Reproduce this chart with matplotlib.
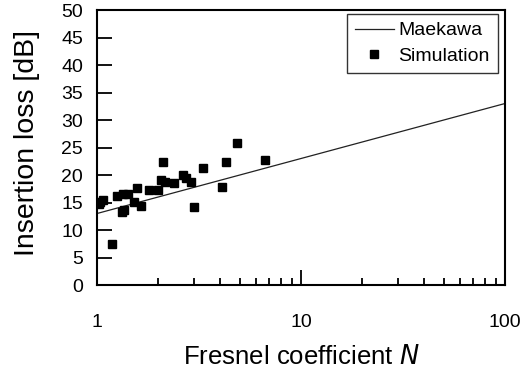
import numpy as np
import matplotlib
matplotlib.use("Agg")
import matplotlib.pyplot as plt
from matplotlib.ticker import LogLocator, FixedLocator, NullFormatter

plt.rcParams['font.family'] = ['Liberation Sans', 'DejaVu Sans']

# Maekawa chart line (straight on log axis)
maekawa_n = [1, 100]
maekawa_il = [13.0, 33.0]

# simulation points
sim_n = [1.02, 1.07, 1.04, 1.19, 1.25, 1.32, 1.35, 1.34, 1.42, 1.51, 1.57, 1.64,
         1.79, 2.00, 2.10, 2.07, 2.15, 2.39, 2.63, 2.73, 2.88, 3.00, 3.30,
         4.11, 4.29, 4.84, 6.66]
sim_il = [14.8, 15.5, 15.1, 7.4, 16.2, 13.3, 13.7, 16.5, 16.5, 15.1, 17.7, 14.4,
          17.3, 17.3, 22.3, 19.1, 18.8, 18.5, 20.0, 19.4, 18.8, 14.2, 21.3,
          17.9, 22.4, 25.9, 22.7]

fig = plt.figure(figsize=(5.25, 3.76), dpi=100)
ax = fig.add_axes([0.1848, 0.242, 0.7771, 0.7314])

ax.plot(maekawa_n, maekawa_il, color='#222222', lw=0.9, label='Maekawa')
ax.plot(sim_n, sim_il, ls='none', marker='s', ms=6.3, color='black', label='Simulation')

ax.set_xscale('log')
ax.set_xlim(1, 100)
ax.set_ylim(0, 50)
ax.set_yticks(np.arange(0, 51, 5))
ax.xaxis.set_major_locator(FixedLocator([1, 10, 100]))
ax.set_xticklabels(['1', '10', '100'])
ax.xaxis.set_minor_locator(LogLocator(base=10, subs=np.arange(2, 10)))
ax.xaxis.set_minor_formatter(NullFormatter())

for s in ax.spines.values():
    s.set_linewidth(1.5)
ax.tick_params(axis='both', which='major', direction='in', length=11, width=1.3,
               labelsize=14, top=False, right=False, pad=10, colors='black')
ax.tick_params(axis='x', which='minor', direction='in', length=5, width=1.3, top=False)
ax.tick_params(axis='x', which='major', pad=21)

ax.set_xlabel('Fresnel coefficient $\\it{N}$', fontsize=18.5, labelpad=10)
ax.set_ylabel('Insertion loss [dB]', fontsize=20.5)
ax.yaxis.set_label_coords(-0.14, 0.518)

leg = ax.legend(loc='upper right', bbox_to_anchor=(0.982, 0.9855), fontsize=14,
                frameon=True, fancybox=False, edgecolor='black', handlelength=2.0,
                borderpad=0.4, labelspacing=0.4, handletextpad=0.25,
                borderaxespad=0)
leg.get_frame().set_linewidth(1.0)

fig.savefig('out.png', dpi=100)
